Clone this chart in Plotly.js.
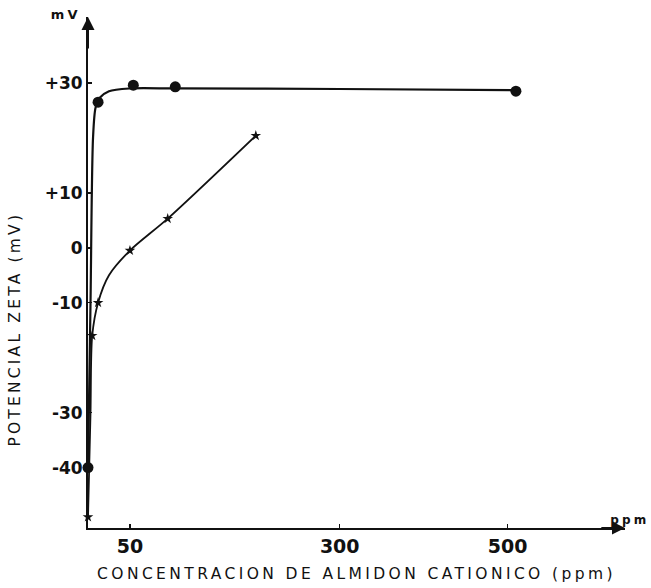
<!DOCTYPE html>
<html>
<head>
<meta charset="utf-8">
<script src="https://cdn.plot.ly/plotly-3.0.1.min.js"></script>
<style>
html,body{margin:0;padding:0;background:#fff;}
#chart{width:651px;height:588px;}
#chart .xtitle{letter-spacing:3.4px;}
#chart .annotation-text{letter-spacing:3.2px;}
</style>
</head>
<body>
<div id="chart"></div>
<script>
// Series with round markers
const circleX = [0, 12, 54, 104, 510];
const circleY = [-40, 26.5, 29.6, 29.3, 28.5];
// Hand-drawn fitted curve through the round-marker series
const circleCurveX = [0, 3, 6, 9, 14, 25, 50, 104, 300, 510];
const circleCurveY = [-40, -10, 20, 25.5, 27.3, 28.5, 29.0, 29.0, 28.9, 28.7];

// Series with star markers
const starX = [0, 5, 12, 50, 95, 200];
const starY = [-49, -16, -10, -0.5, 5.3, 20.4];
// Curve through the star series
const starCurveX = [0, 3, 5, 12, 25, 50, 95, 200];
const starCurveY = [-49, -30, -16, -10, -5, -0.5, 5.3, 20.4];

const yTickVals = [30, 10, 0, -10, -30, -40];
const yTickText = ['+30', '+10', '0', '-10', '-30', '-40'];
const xTickVals = [50, 300, 500];
const xTickText = ['50', '300', '500'];

const ink = '#111';
const tickFont = 'DejaVu Sans, sans-serif';

const traces = [
  {x: circleCurveX, y: circleCurveY, mode: 'lines', line: {color: ink, width: 2.2, shape: 'spline', smoothing: 0.8}, hoverinfo: 'skip', showlegend: false, cliponaxis: false},
  {x: starCurveX, y: starCurveY, mode: 'lines', line: {color: ink, width: 1.8, shape: 'spline', smoothing: 0.8}, hoverinfo: 'skip', showlegend: false, cliponaxis: false},
  {x: circleX, y: circleY, mode: 'markers', marker: {symbol: 'circle', size: 11, color: ink}, showlegend: false, cliponaxis: false},
  {x: starX, y: starY, mode: 'markers', marker: {symbol: 'star', size: 8, color: ink}, showlegend: false, cliponaxis: false}
];

const layout = {
  width: 651, height: 588,
  margin: {l: 88, r: 26, t: 17, b: 60},
  paper_bgcolor: '#fff', plot_bgcolor: '#fff',
  showlegend: false,
  font: {family: tickFont, color: ink},
  xaxis: {
    range: [0, 640], showgrid: false, zeroline: false,
    showline: true, linecolor: ink, linewidth: 2,
    tickmode: 'array', tickvals: xTickVals, ticktext: xTickText,
    ticks: 'inside', ticklen: 4, tickwidth: 1.5, tickcolor: ink,
    tickfont: {size: 19, family: tickFont, color: ink, weight: 'bold'},
    title: {text: 'CONCENTRACION DE ALMIDON CATIONICO (ppm)', font: {size: 15.5, family: tickFont, color: ink}, standoff: 12}
  },
  yaxis: {
    range: [-51, 42], showgrid: false, zeroline: false,
    showline: true, linecolor: ink, linewidth: 2,
    tickmode: 'array', tickvals: yTickVals, ticktext: yTickText,
    ticks: 'inside', ticklen: 4, tickwidth: 1.5, tickcolor: ink,
    tickfont: {size: 17, family: tickFont, color: ink, weight: 'bold'}
  },
  annotations: [
    // axis arrowheads
    {xref: 'x', yref: 'y', axref: 'x', ayref: 'y', x: 0, y: 42, ax: 0, ay: 36, text: '', showarrow: true, arrowhead: 2, arrowsize: 1.3, arrowwidth: 2, arrowcolor: ink},
    {xref: 'x', yref: 'y', axref: 'x', ayref: 'y', x: 640, y: -51, ax: 610, ay: -51, text: '', showarrow: true, arrowhead: 2, arrowsize: 1.3, arrowwidth: 2, arrowcolor: ink},
    {xref: 'paper', yref: 'paper', x: -0.041, y: 1.004, text: '<b>mV</b>', showarrow: false, xanchor: 'center', yanchor: 'middle', font: {size: 13, family: tickFont, color: ink}},
    {xref: 'paper', yref: 'paper', x: 1.01, y: 0.016, text: '<b>ppm</b>', showarrow: false, xanchor: 'center', yanchor: 'middle', font: {size: 12, family: tickFont, color: ink}},
    {xref: 'paper', yref: 'paper', x: -0.136, y: 0.389, text: 'POTENCIAL ZETA (mV)', textangle: -90, showarrow: false, xanchor: 'center', yanchor: 'middle', font: {size: 15.5, family: tickFont, color: ink}}
  ]
};

Plotly.newPlot('chart', traces, layout, {staticPlot: true, displayModeBar: false});
</script>
</body>
</html>
